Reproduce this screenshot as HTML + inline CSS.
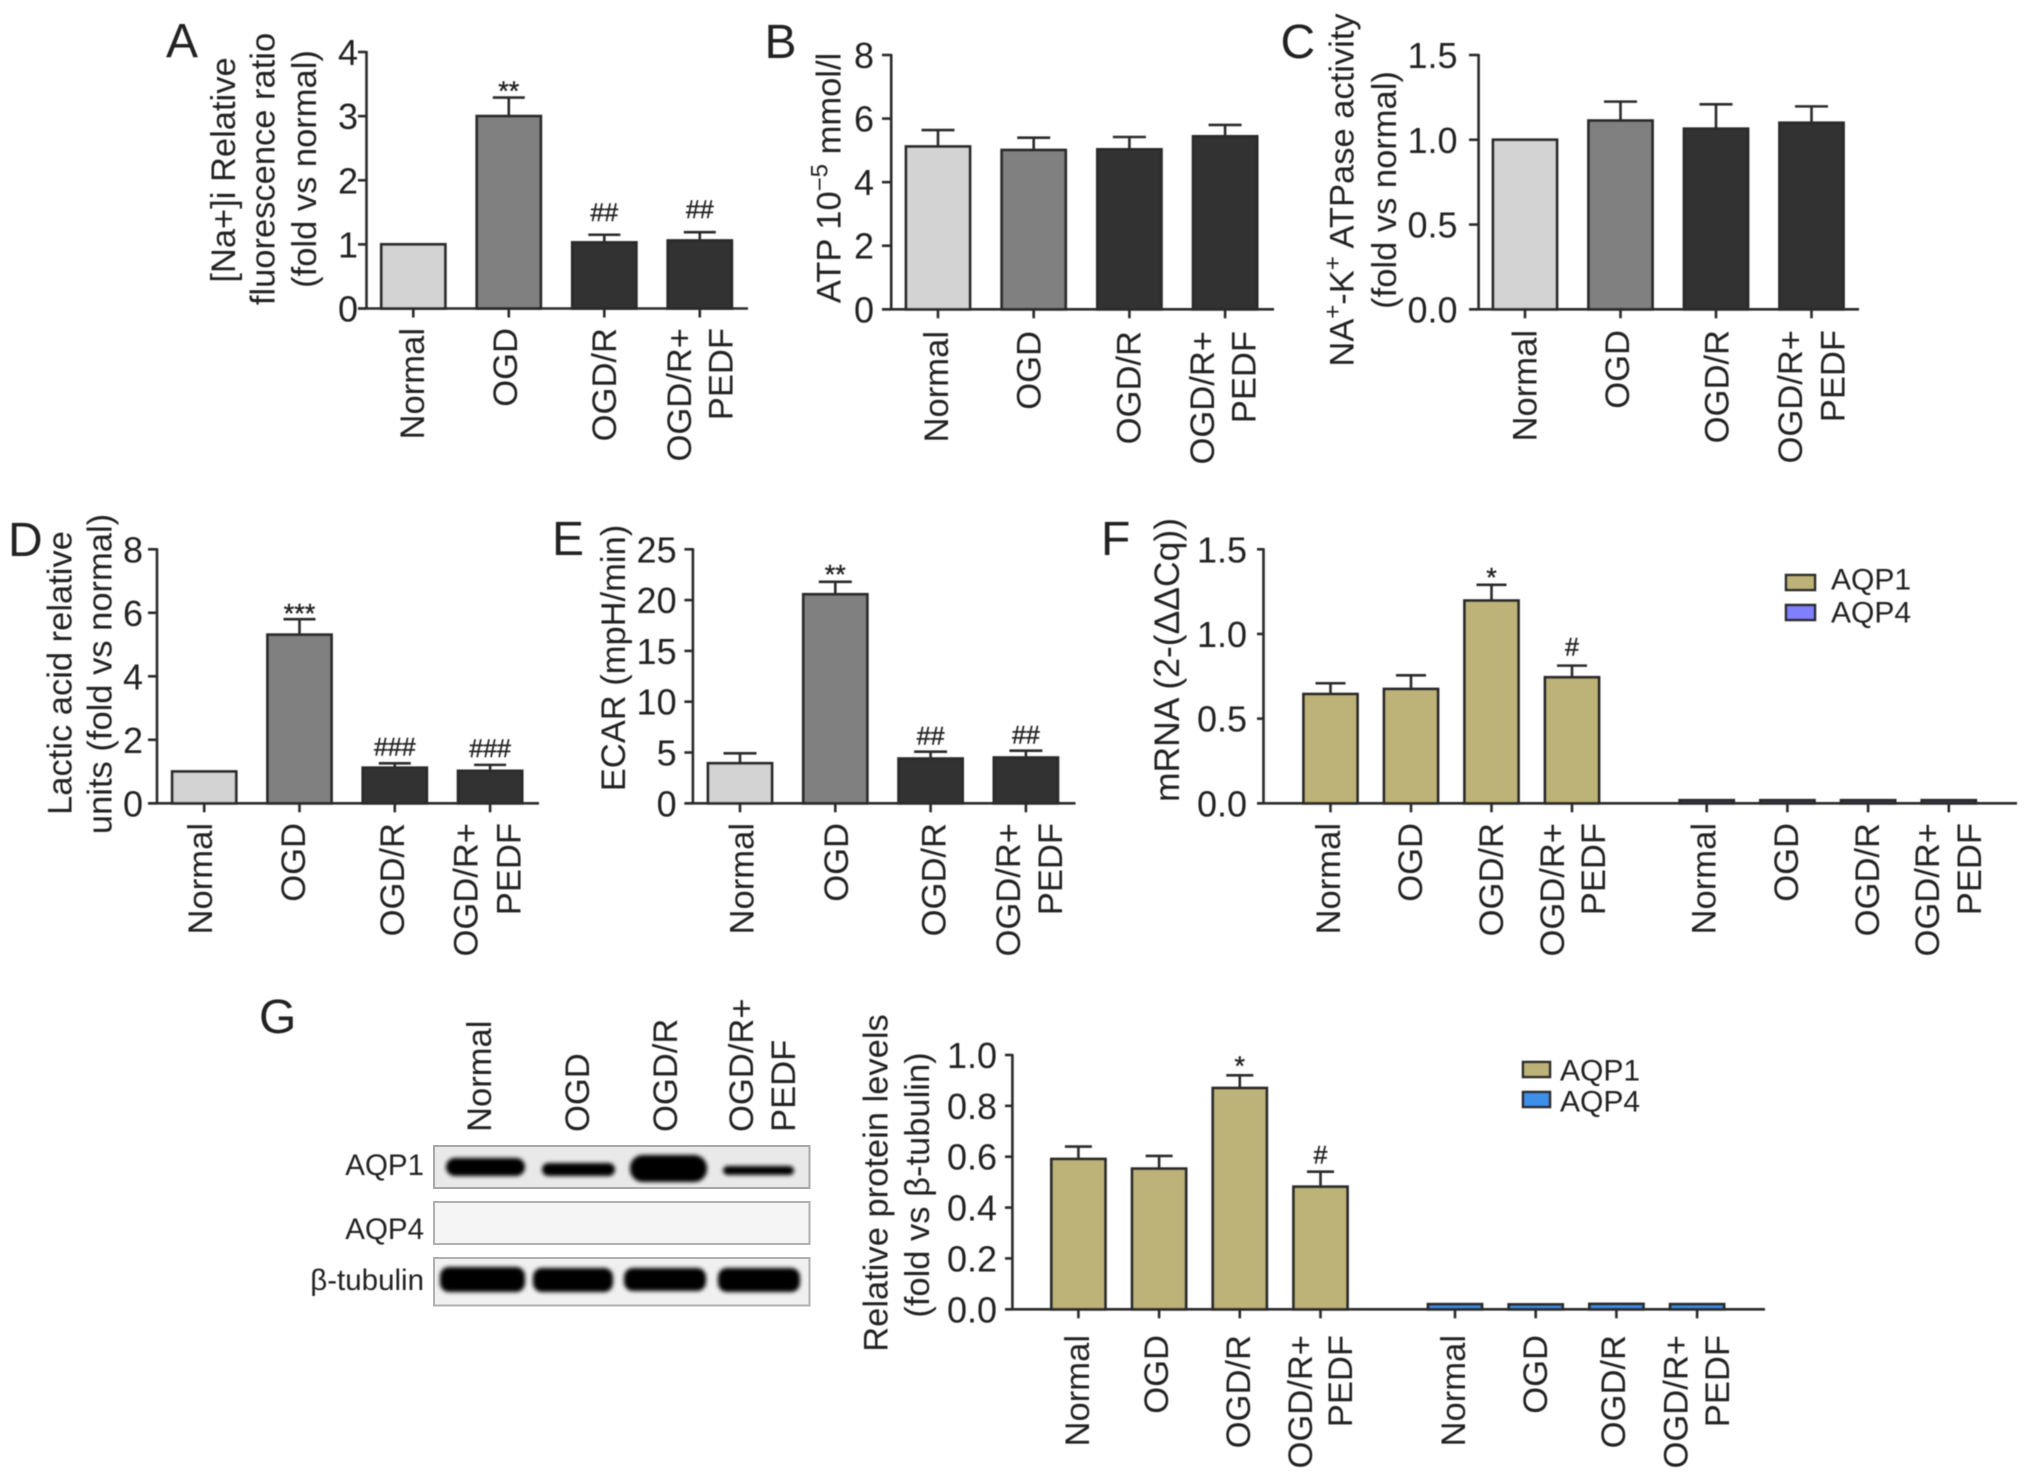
<!DOCTYPE html>
<html lang="en">
<head>
<meta charset="utf-8">
<title>Ion, ATP, lactate and aquaporin measurements</title>
<style>
html,body{margin:0;padding:0;background:#fff;}
svg{display:block;font-family:"Liberation Sans",Arial,sans-serif;}
text{fill:#222;}
.ylab{font-size:34.5px;text-anchor:middle;}
.letter{font-size:48px;}
.blotlab{font-size:29.5px;text-anchor:end;}
.legend{font-size:30px;}
</style>
</head>
<body>
<svg id="figure" width="2031" height="1478" viewBox="0 0 2031 1478" xmlns="http://www.w3.org/2000/svg">
  <defs>
    <filter id="blotBlur" x="-20%" y="-60%" width="140%" height="220%"><feGaussianBlur stdDeviation="2.2"/></filter>
    <filter id="softBlur" x="-5%" y="-5%" width="110%" height="110%"><feGaussianBlur stdDeviation="0.45"/></filter>
  </defs>
  <g id="charts" filter="url(#softBlur)">
  <text class="letter" x="166" y="57">A</text>
  <text class="letter" x="764.5" y="58">B</text>
  <text class="letter" x="1280.5" y="58">C</text>
  <text class="letter" x="8" y="556">D</text>
  <text class="letter" x="552" y="555">E</text>
  <text class="letter" x="1101" y="555">F</text>
  <text class="letter" x="259" y="1033">G</text>

  <text class="ylab" transform="translate(235,170) rotate(-90)">[Na+]i Relative</text>
  <text class="ylab" transform="translate(274.4,169) rotate(-90)">fluorescence ratio</text>
  <text class="ylab" transform="translate(316,169) rotate(-90)">(fold vs normal)</text>
  <text class="ylab" transform="translate(840.5,178) rotate(-90)">ATP 10<tspan dy="-13" font-size="24">−5</tspan><tspan dy="13"> mmol/l</tspan></text>
  <text class="ylab" transform="translate(1353.4,190) rotate(-90)">NA<tspan dy="-13" font-size="24">+</tspan><tspan dy="13">-K</tspan><tspan dy="-13" font-size="24">+</tspan><tspan dy="13"> ATPase activity</tspan></text>
  <text class="ylab" transform="translate(1396,190) rotate(-90)">(fold vs normal)</text>
  <text class="ylab" transform="translate(71.4,673) rotate(-90)">Lactic acid relative</text>
  <text class="ylab" transform="translate(111.4,674) rotate(-90)">units (fold vs normal)</text>
  <text class="ylab" transform="translate(625,658) rotate(-90)">ECAR (mpH/min)</text>
  <text class="ylab" style="font-size:35.5px" transform="translate(1179,660) rotate(-90)">mRNA (2-(ΔΔCq))</text>
  <text class="ylab" transform="translate(887.5,1183) rotate(-90)">Relative protein levels</text>
  <text class="ylab" transform="translate(929,1185) rotate(-90)">(fold vs β-tubulin)</text>

  <g>
    <rect x="1795" y="575" width="29" height="15" fill="#BDB378" stroke="#2b2b2b" stroke-width="2.5" transform="translate(-9,0)"/>
    <text class="legend" x="1840" y="593" transform="translate(-9,-3.5)">AQP1</text>
    <rect x="1795" y="605" width="29" height="15" fill="#8080FF" stroke="#2b2b2b" stroke-width="2.5" transform="translate(-9,0)"/>
    <text class="legend" x="1840" y="626" transform="translate(-9,-3.5)">AQP4</text>
  </g>
  <g>
    <rect x="1523" y="1062" width="27" height="15" fill="#BDB378" stroke="#2b2b2b" stroke-width="2.5"/>
    <text class="legend" x="1560" y="1080.5">AQP1</text>
    <rect x="1523" y="1092" width="27" height="15" fill="#3E8FE8" stroke="#2b2b2b" stroke-width="2.5"/>
    <text class="legend" x="1560" y="1111.5">AQP4</text>
  </g>

  <g id="western-blot-labels">
    <text transform="translate(491,1132) rotate(-90)" font-size="34.6">Normal</text>
    <text transform="translate(589,1132) rotate(-90)" font-size="34.6">OGD</text>
    <text transform="translate(677,1132) rotate(-90)" font-size="34.6">OGD/R</text>
    <text transform="translate(753,1132) rotate(-90)" font-size="34.6">OGD/R+</text>
    <text transform="translate(795,1132) rotate(-90)" font-size="34.6">PEDF</text>
    <text class="blotlab" x="424" y="1175">AQP1</text>
    <text class="blotlab" x="424" y="1239">AQP4</text>
    <text class="blotlab" x="424" y="1290">β-tubulin</text>
  </g>
  </g>

  <g id="western-blot">
    <rect x="434" y="1146" width="375.5" height="42" fill="#e9e9e9" stroke="#a8a8a8" stroke-width="2"/>
    <rect x="434" y="1202" width="375.5" height="42" fill="#f5f5f5" stroke="#b0b0b0" stroke-width="2"/>
    <rect x="434" y="1258" width="375.5" height="47.5" fill="#f0f0f0" stroke="#b0b0b0" stroke-width="2"/>
    <g filter="url(#blotBlur)" fill="#050505">
      <rect x="446" y="1158" width="79" height="18" rx="9"/>
      <rect x="542" y="1163" width="73" height="13" rx="6.5"/>
      <rect x="630" y="1155" width="77" height="27" rx="13"/>
      <rect x="723" y="1166" width="71" height="9" rx="4.5"/>
      <rect x="440" y="1267" width="85" height="25" rx="9"/>
      <rect x="533" y="1268" width="80" height="24" rx="9"/>
      <rect x="624" y="1268" width="82" height="23" rx="9"/>
      <rect x="718" y="1268" width="82" height="24" rx="9"/>
    </g>
  </g>
</svg>
<script>
// Shared category labels (each entry is one or two printed lines)
const categories = [['Normal'], ['OGD'], ['OGD/R'], ['OGD/R+', 'PEDF']];

// Panel A
const aTicks = ['0', '1', '2', '3', '4'];
const aValues = [1, 3, 1.03, 1.06];
const aErrors = [0, 0.29, 0.12, 0.13];
const aMarks = ['', '**', '##', '##'];
// Panel B
const bTicks = ['0', '2', '4', '6', '8'];
const bValues = [5.12, 5.01, 5.03, 5.44];
const bErrors = [0.52, 0.39, 0.39, 0.36];
const bMarks = ['', '', '', ''];
// Panel C
const cTicks = ['0.0', '0.5', '1.0', '1.5'];
const cValues = [1, 1.113, 1.065, 1.1];
const cErrors = [0, 0.112, 0.144, 0.097];
const cMarks = ['', '', '', ''];
// Panel D
const dTicks = ['0', '2', '4', '6', '8'];
const dValues = [1, 5.31, 1.12, 1.02];
const dErrors = [0, 0.49, 0.14, 0.19];
const dMarks = ['', '***', '###', '###'];
// Panel E
const eTicks = ['0', '5', '10', '15', '20', '25'];
const eValues = [3.94, 20.57, 4.4, 4.5];
const eErrors = [0.98, 1.23, 0.68, 0.68];
const eMarks = ['', '**', '##', '##'];
// Panel F
const fTicks = ['0.0', '0.5', '1.0', '1.5'];
const fAqp1Values = [0.645, 0.675, 1.197, 0.744];
const fAqp1Errors = [0.064, 0.081, 0.093, 0.069];
const fAqp1Marks = ['', '', '*', '#'];
const fAqp4Values = [0.018, 0.018, 0.018, 0.018];
const fAqp4Errors = [0, 0, 0, 0];
const fAqp4Marks = ['', '', '', ''];
// Panel G
const gTicks = ['0.0', '0.2', '0.4', '0.6', '0.8', '1.0'];
const gAqp1Values = [0.591, 0.553, 0.87, 0.482];
const gAqp1Errors = [0.049, 0.05, 0.05, 0.059];
const gAqp1Marks = ['', '', '*', '#'];
const gAqp4Values = [0.02, 0.019, 0.021, 0.02];
const gAqp4Errors = [0, 0, 0, 0];
const gAqp4Marks = ['', '', '', ''];

const greys = ['#d3d3d3', '#808080', '#333333', '#333333'];
const khaki = ['#BDB378', '#BDB378', '#BDB378', '#BDB378'];
const periwinkle = ['#5a5a9a', '#5a5a9a', '#5a5a9a', '#5a5a9a'];
const sky = ['#3E8FE8', '#3E8FE8', '#3E8FE8', '#3E8FE8'];

const panels = [
  { id: 'a', axisX: 366.5, yBase: 308.5, yTop: 52, yMax: 4, xLeft: 358, xRight: 748, labelRight: 358, labelTop: 328, ticks: aTicks, starLift: 1, hashLift: 5,
    groups: [{ values: aValues, errors: aErrors, marks: aMarks, fills: greys, start: 413.3, step: 95.5, barW: 64, capW: 32,
      shifts: [[-1.3], [-3.8], [-0.5], [-21, 20.5]] }] },
  { id: 'b', axisX: 891.2, yBase: 309.3, yTop: 55, yMax: 8, xLeft: 882, xRight: 1274, labelRight: 874, labelTop: 331, ticks: bTicks, starLift: 0, hashLift: 0,
    groups: [{ values: bValues, errors: bErrors, marks: bMarks, fills: greys, start: 938, step: 95.7, barW: 64, capW: 33,
      shifts: [[-2.2], [-5.2], [-1], [-23, 18.4]] }] },
  { id: 'c', axisX: 1478.6, yBase: 309.3, yTop: 55, yMax: 1.5, xLeft: 1469, xRight: 1859, labelRight: 1457.5, labelTop: 330, ticks: cTicks, starLift: 0, hashLift: 0,
    groups: [{ values: cValues, errors: cErrors, marks: cMarks, fills: greys, start: 1525, step: 95.5, barW: 64, capW: 33,
      shifts: [[-0.5], [-3.5], [0.6], [-21.7, 21]] }] },
  { id: 'd', axisX: 157, yBase: 803.3, yTop: 549.3, yMax: 8, xLeft: 148, xRight: 539, labelRight: 143, labelTop: 823, ticks: dTicks, starLift: 0, hashLift: -1,
    groups: [{ values: dValues, errors: dErrors, marks: dMarks, fills: greys, start: 204.2, step: 95.3, barW: 64, capW: 32,
      shifts: [[-4], [-6.4], [-3], [-24.5, 18.5]] }] },
  { id: 'e', axisX: 692.9, yBase: 803.3, yTop: 549.3, yMax: 25, xLeft: 684.4, xRight: 1075.5, labelRight: 676.6, labelTop: 823, ticks: eTicks, starLift: 2, hashLift: -2,
    groups: [{ values: eValues, errors: eErrors, marks: eMarks, fills: greys, start: 740, step: 95.3, barW: 64, capW: 33,
      shifts: [[1.5], [0.5], [3.1], [-18, 24]] }] },
  { id: 'f', axisX: 1263.5, yBase: 803.3, yTop: 549.3, yMax: 1.5, xLeft: 1257, xRight: 2017, labelRight: 1247, labelTop: 823, ticks: fTicks, starLift: 2, hashLift: 1,
    groups: [
      { values: fAqp1Values, errors: fAqp1Errors, marks: fAqp1Marks, fills: khaki, start: 1330.5, step: 80.5, barW: 54, capW: 30,
        shifts: [[-2.7], [-1], [-0.5], [-20, 21]] },
      { values: fAqp4Values, errors: fAqp4Errors, marks: fAqp4Marks, fills: periwinkle, start: 1706.7, step: 80.7, barW: 54, capW: 30,
        shifts: [[-3.3], [-1.5], [-1], [-22, 20]] }
    ] },
  { id: 'g', axisX: 1012.4, yBase: 1309.3, yTop: 1055, yMax: 1, xLeft: 1005, xRight: 1765, labelRight: 997, labelTop: 1335, ticks: gTicks, starLift: 4, hashLift: -1,
    groups: [
      { values: gAqp1Values, errors: gAqp1Errors, marks: gAqp1Marks, fills: khaki, start: 1078.4, step: 80.7, barW: 54, capW: 27,
        shifts: [[-1.4], [-3], [-2], [-20.6, 19.4]] },
      { values: gAqp4Values, errors: gAqp4Errors, marks: gAqp4Marks, fills: sky, start: 1455, step: 80.7, barW: 54, capW: 27,
        shifts: [[-2], [-0.7], [-3.4], [-21.5, 19.7]] }
    ] }
];

const SVG_NS = 'http://www.w3.org/2000/svg';
const INK = '#2b2b2b';
const root = document.getElementById('charts');

function mk(tag, attrs, parent) {
  const node = document.createElementNS(SVG_NS, tag);
  for (const k in attrs) node.setAttribute(k, attrs[k]);
  parent.appendChild(node);
  return node;
}
function line(x1, y1, x2, y2, w, parent) {
  return mk('line', { x1: x1, y1: y1, x2: x2, y2: y2, stroke: INK, 'stroke-width': w }, parent);
}

panels.forEach(function (p) {
  const yScale = function (v) { return p.yBase - (v / p.yMax) * (p.yBase - p.yTop); };

  const panel = mk('g', {}, root);
  
  

  // bars and error bars sit under the axis lines
  p.groups.forEach(function (g, gi) {
    const xScale = function (i) { return g.start + i * g.step; };
    g.values.forEach(function (v, i) {
      const cx = xScale(i);
      const barTop = yScale(v);
      const errTop = yScale(v + g.errors[i]);
      if (g.errors[i] > 0) {
        const stem = line(cx, barTop, cx, errTop, 2.6, panel);
        
        
        const cap = line(cx - g.capW / 2, errTop, cx + g.capW / 2, errTop, 2.6, panel);
        
        
      }
      const bar = mk('rect', { x: cx - g.barW / 2, y: barTop, width: g.barW, height: p.yBase - barTop, fill: g.fills[i], stroke: INK, 'stroke-width': 2.8 }, panel);
      
      

      const mark = g.marks[i];
      if (mark) {
        const isStar = mark.charAt(0) === '*';
        const markY = errTop + (isStar ? 3.5 - p.starLift : -9 - p.hashLift);
        const markText = mk('text', { x: cx, y: markY, 'text-anchor': 'middle', 'font-size': isStar ? 27 : 25, stroke: '#222', 'stroke-width': 0.4 }, panel);
        markText.textContent = mark;
        
        
      }

      const tick = line(cx, p.yBase, cx, p.yBase + 9, 2.6, panel);
      
      

      categories[i].forEach(function (txt, li) {
        const bx = cx + g.shifts[i][li] + 12;
        const lab = mk('text', { transform: 'translate(' + bx + ',' + p.labelTop + ') rotate(-90)', 'text-anchor': 'end', 'font-size': 34.6 }, panel);
        lab.textContent = txt;
        
        
      });
    });
  });

  const yAxis = line(p.axisX, p.yTop - 1, p.axisX, p.yBase, 2.6, panel);
  
  
  const xAxis = line(p.xLeft, p.yBase, p.xRight, p.yBase, 2.6, panel);
  
  

  p.ticks.forEach(function (label) {
    const ty = yScale(parseFloat(label));
    const yTick = line(p.xLeft, ty, p.axisX, ty, 2.6, panel);
    
    
    const yLab = mk('text', { x: p.labelRight, y: ty + 13, 'text-anchor': 'end', 'font-size': 36 }, panel);
    yLab.textContent = label;
    
    
  });
});
</script>
</body>
</html>
